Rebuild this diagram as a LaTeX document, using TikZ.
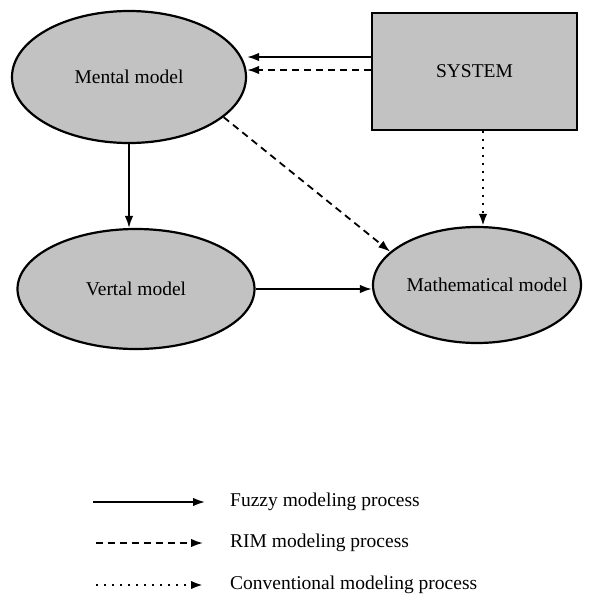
\documentclass[tikz,border=0pt]{standalone}
\usepackage{fontspec}
\setmainfont{Liberation Serif}
\usetikzlibrary{arrows.meta,shapes.geometric}

\definecolor{scangray}{gray}{0.76}

\begin{document}
\begin{tikzpicture}[x=1pt, y=-1pt, >={Latex[length=12pt,width=8.5pt]},
    font=\fontsize{19.5}{22}\selectfont, line width=1.8pt,
    model/.style={ellipse, draw, line width=2.2pt, fill=scangray, inner sep=0pt},
    dashline/.style={dash pattern=on 7pt off 5pt},
    dotline/.style={line width=2.3pt, dash pattern=on 1.8pt off 6.2pt}]
  \useasboundingbox (0,0) rectangle (591,603);

  \node[model, minimum width=234pt, minimum height=132pt] (mental) at (129,77) {Mental model};
  \node[draw, line width=2.2pt, fill=scangray, minimum width=205pt, minimum height=117pt] (sys) at (474.5,71.5) {\raisebox{-4pt}{SYSTEM}};
  \node[model, minimum width=237pt, minimum height=120pt] (vertal) at (136,289) {Vertal model};
  \node[model, minimum width=208pt, minimum height=116pt] (math) at (477,285) {\makebox[0pt]{\hspace{20pt}Mathematical model}};

  \draw[->] ([yshift=14.5pt]sys.west) -- ([yshift=14.5pt]sys.west -| mental.east);
  \draw[->, dashline] ([yshift=1.5pt]sys.west) -- ([yshift=1.5pt]sys.west -| mental.east);
  \draw[->, dashline] (mental.-23) -- (math.159);
  \draw[->, dotline] ([xshift=8.5pt]sys.south) -- ([xshift=8.5pt]sys.south |- math.north);
  \draw[->] (mental.south) -- (mental.south |- vertal.north);
  \draw[->] (vertal.east) -- (vertal.east -| math.west);

  % legend
  \coordinate (fuzzyA) at (93,502);
  \coordinate (fuzzyB) at (205,502);
  \coordinate (rimA) at (96,543);
  \coordinate (rimB) at (203,543);
  \coordinate (convA) at (96,585);
  \coordinate (convB) at (203,585);
  \draw[->] (fuzzyA) -- (fuzzyB);
  \draw[->, dashline] (rimA) -- (rimB);
  \draw[->, dotline] (convA) -- (convB);
  \node[anchor=west] (fuzzy) at (226,502) {Fuzzy modeling process};
  \node[anchor=west] (rim) at (226,543) {RIM modeling process};
  \node[anchor=west] (conv) at (226,585) {Conventional modeling process};
\end{tikzpicture}
\end{document}
